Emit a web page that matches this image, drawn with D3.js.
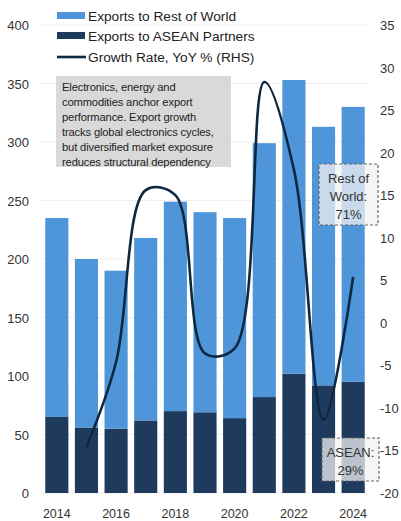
<!DOCTYPE html>
<html>
<head>
<meta charset="utf-8">
<script src="https://cdn.jsdelivr.net/npm/d3@7"></script>
<style>
  body { margin: 0; background: #fff; }
  text { font-family: "Liberation Sans", Arial, sans-serif; }
</style>
</head>
<body>
<svg width="401" height="521"></svg>
<script>
// data
var years = [2014, 2015, 2016, 2017, 2018, 2019, 2020, 2021, 2022, 2023, 2024];
var asean = [65, 56, 55, 62, 70, 69, 64, 82, 102, 92, 95];
var restOfWorld = [170, 144, 135, 156, 179, 171, 171, 217, 251, 221, 235];
var growth = [null, -14.6, -4.6, 15.6, 15.0, -3.6, -3.0, 28.3, 18, -11.4, 5.4];
var leftTicks = [0, 50, 100, 150, 200, 250, 300, 350, 400];
var rightTicks = [-20, -15, -10, -5, 0, 5, 10, 15, 20, 25, 30, 35];
var xTickYears = [2014, 2016, 2018, 2020, 2022, 2024];
var noteLines = ["Electronics, energy and", "commodities anchor export", "performance. Export growth",
  "tracks global electronics cycles,", "but diversified market exposure", "reduces structural dependency"];

var svg = d3.select("svg");

var x = d3.scaleBand().domain(years).range([42, 368]).paddingInner(0.22).paddingOuter(0.11);
var y = d3.scaleLinear().domain([0, 400]).range([493, 25]);
var y2 = d3.scaleLinear().domain([-20, 35]).range([493, 25]);

// gridlines
svg.append("g").selectAll("line")
  .data(leftTicks)
  .enter().append("line")
  .attr("x1", 41).attr("x2", 368)
  .attr("y1", function(d){ return y(d); })
  .attr("y2", function(d){ return y(d); })
  .attr("stroke", "#efefef")
  .attr("stroke-width", 1);

// stacked bars
var bars = svg.append("g");
bars.selectAll(".asean")
  .data(years)
  .enter().append("rect")
  .attr("x", function(d){ return x(d); })
  .attr("width", x.bandwidth())
  .attr("y", function(d, i){ return y(asean[i]); })
  .attr("height", function(d, i){ return y(0) - y(asean[i]); })
  .attr("fill", "#1e3a5c");
bars.selectAll(".row")
  .data(years)
  .enter().append("rect")
  .attr("x", function(d){ return x(d); })
  .attr("width", x.bandwidth())
  .attr("y", function(d, i){ return y(asean[i] + restOfWorld[i]); })
  .attr("height", function(d, i){ return y(asean[i]) - y(asean[i] + restOfWorld[i]); })
  .attr("fill", "#4e95d9");

// growth line
var line = d3.line()
  .defined(function(d){ return d.v != null; })
  .x(function(d){ return x(d.year) + x.bandwidth() / 2; })
  .y(function(d){ return y2(d.v); })
  .curve(d3.curveCatmullRom.alpha(0.5));
svg.append("path")
  .datum(years.map(function(yr, i){ return {year: yr, v: growth[i]}; }))
  .attr("d", line)
  .attr("fill", "none")
  .attr("stroke", "#0d2840")
  .attr("stroke-width", 2.6);

// axes
var axisColor = "#333";
svg.append("g").selectAll("text")
  .data(leftTicks)
  .enter().append("text")
  .attr("x", 29)
  .attr("y", function(d){ return y(d) + 5; })
  .attr("text-anchor", "end")
  .attr("font-size", 13)
  .attr("fill", axisColor)
  .text(function(d){ return d; });

svg.append("g").selectAll("text")
  .data(rightTicks)
  .enter().append("text")
  .attr("x", 380)
  .attr("y", function(d){ return y2(d) + 5; })
  .attr("text-anchor", "start")
  .attr("font-size", 13)
  .attr("fill", axisColor)
  .text(function(d){ return d; });

svg.append("g").selectAll("text")
  .data(xTickYears)
  .enter().append("text")
  .attr("x", function(d){ return x(d) + x.bandwidth() / 2; })
  .attr("y", 518)
  .attr("text-anchor", "middle")
  .attr("font-size", 12.5)
  .attr("fill", axisColor)
  .text(function(d){ return d; });

// legend
var legend = svg.append("g");
legend.append("rect").attr("x", 57).attr("y", 12).attr("width", 28).attr("height", 7).attr("fill", "#4e95d9");
legend.append("rect").attr("x", 57).attr("y", 32).attr("width", 28).attr("height", 7).attr("fill", "#1e3a5c");
legend.append("line").attr("x1", 57).attr("x2", 86).attr("y1", 57).attr("y2", 57)
  .attr("stroke", "#0d2840").attr("stroke-width", 2.6);
var legendText = ["Exports to Rest of World", "Exports to ASEAN Partners", "Growth Rate, YoY % (RHS)"];
legend.selectAll("text")
  .data(legendText)
  .enter().append("text")
  .attr("x", 88)
  .attr("y", function(d, i){ return 20.5 + i * 20.5; })
  .attr("font-size", 13.7)
  .attr("fill", "#222")
  .text(function(d){ return d; });

// note box
svg.append("rect")
  .attr("x", 56).attr("y", 76).attr("width", 175).attr("height", 91)
  .attr("fill", "#d9d9d9");
svg.append("g").selectAll("text")
  .data(noteLines)
  .enter().append("text")
  .attr("x", 62)
  .attr("y", function(d, i){ return 91 + i * 15; })
  .attr("font-size", 11.2)
  .attr("letter-spacing", -0.15)
  .attr("fill", "#222")
  .text(function(d){ return d; });

// share callouts
function callout(x0, y0, w, h, lines, lineY) {
  svg.append("rect")
    .attr("x", x0).attr("y", y0).attr("width", w).attr("height", h)
    .attr("fill", "rgba(242,242,242,0.75)")
    .attr("stroke", "#666")
    .attr("stroke-width", 1.2)
    .attr("stroke-dasharray", "3,2");
  svg.append("g").selectAll("text")
    .data(lines)
    .enter().append("text")
    .attr("x", x0 + w / 2)
    .attr("y", function(d, i){ return lineY[i]; })
    .attr("text-anchor", "middle")
    .attr("font-size", 13)
    .attr("fill", "#333")
    .text(function(d){ return d; });
}
callout(319, 164, 59, 61, ["Rest of", "World:", "71%"], [183, 201, 219]);
callout(322, 438, 57, 43, ["ASEAN:", "29%"], [457, 475]);
</script>
</body>
</html>
